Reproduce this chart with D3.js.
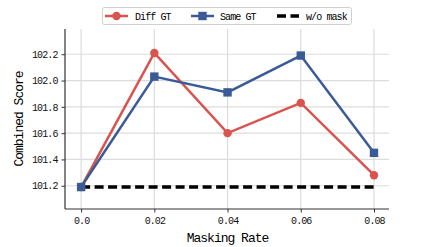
<!DOCTYPE html>
<html><head><meta charset="utf-8">
<script src="https://cdn.jsdelivr.net/npm/d3@7"></script>
<style>
html,body{margin:0;padding:0;background:#fff;}
text{font-family:"Liberation Mono","DejaVu Sans Mono",monospace;}
</style></head>
<body><svg id="c" width="432" height="247"></svg>
<script>
const rates = [0.0, 0.02, 0.04, 0.06, 0.08];
const xTickLabels = ["0.0", "0.02", "0.04", "0.06", "0.08"];
const diffGT = [101.19, 102.21, 101.60, 101.83, 101.28];
const sameGT = [101.19, 102.03, 101.91, 102.19, 101.45];
const woMask = [101.19, 101.19, 101.19, 101.19, 101.19];
const yTicks = [101.2, 101.4, 101.6, 101.8, 102.0, 102.2];
const seriesNames = ["Diff GT", "Same GT", "w/o mask"];

const svg = d3.select("#c");
const L = 65, R = 389, T = 29, B = 209;
const x = d3.scaleLinear().domain([-0.0044, 0.0841]).range([L, R]);
const y = d3.scaleLinear().domain([101.023, 102.392]).range([B, T]);

// grid
const g = svg.append("g");
g.selectAll(".gx").data(rates).enter().append("line")
  .attr("x1", d => x(d)).attr("x2", d => x(d)).attr("y1", T).attr("y2", B)
  .attr("stroke", "#dcdcdc").attr("stroke-width", 1.2);
g.selectAll(".gy").data(yTicks).enter().append("line")
  .attr("y1", d => y(d)).attr("y2", d => y(d)).attr("x1", L).attr("x2", R)
  .attr("stroke", "#dcdcdc").attr("stroke-width", 1.2);

// axes
const xAxis = d3.axisBottom(x).tickValues(rates).tickFormat((d, i) => xTickLabels[i]).tickSize(3.5).tickPadding(4);
const yAxis = d3.axisLeft(y).tickValues(yTicks).tickFormat(d => d.toFixed(1)).tickSize(3.5).tickPadding(4);
const gx = svg.append("g").attr("transform", `translate(0,${B})`).call(xAxis);
const gy = svg.append("g").attr("transform", `translate(${L},0)`).call(yAxis);
[gx, gy].forEach(a => {
  a.select(".domain").remove();
  a.selectAll(".tick line").attr("stroke", "#333").attr("stroke-width", 1);
  a.selectAll(".tick text").attr("fill", "#111").style("font-size", "10px").style("letter-spacing", "-0.9px");
});
svg.append("line").attr("x1", L).attr("x2", L).attr("y1", T).attr("y2", B).attr("stroke", "#333").attr("stroke-width", 1.2);
svg.append("line").attr("x1", L).attr("x2", R).attr("y1", B).attr("y2", B).attr("stroke", "#333").attr("stroke-width", 1.2);

// labels
svg.append("text").attr("x", (L + R) / 2 + 0.5).attr("y", 242).attr("text-anchor", "middle")
  .style("font-size", "13px").style("letter-spacing", "-1px").attr("fill", "#000").text("Masking Rate");
svg.append("text").attr("transform", `translate(23,119) rotate(-90)`).attr("text-anchor", "middle")
  .style("font-size", "13px").style("letter-spacing", "-1px").attr("fill", "#000").text("Combined Score");

const red = "#d9534f", blue = "#3b5b96";
const line = d3.line().x((d, i) => x(rates[i])).y(d => y(d));

// w/o mask dashed
svg.append("path").datum(woMask).attr("d", line).attr("fill", "none")
  .attr("stroke", "#000").attr("stroke-width", 3.5).attr("stroke-dasharray", "9,4.5");

// Diff GT
svg.append("path").datum(diffGT).attr("d", line).attr("fill", "none").attr("stroke", red).attr("stroke-width", 2.5);
svg.selectAll(".cd").data(diffGT).enter().append("circle")
  .attr("cx", (d, i) => x(rates[i])).attr("cy", d => y(d)).attr("r", 4.2).attr("fill", red);

// Same GT
svg.append("path").datum(sameGT).attr("d", line).attr("fill", "none").attr("stroke", blue).attr("stroke-width", 2.5);
svg.selectAll(".sq").data(sameGT).enter().append("rect")
  .attr("x", (d, i) => x(rates[i]) - 4.2).attr("y", d => y(d) - 4.2).attr("width", 8.4).attr("height", 8.4).attr("fill", blue);

// legend
const lg = svg.append("g");
lg.append("rect").attr("x", 102.5).attr("y", 7.5).attr("width", 249).attr("height", 17).attr("rx", 2)
  .attr("fill", "#fff").attr("stroke", "#d0d0d0").attr("stroke-width", 1);
const items = [
  {name: seriesNames[0], x0: 105, tx: 135, color: red, type: "circle"},
  {name: seriesNames[1], x0: 191, tx: 220, color: blue, type: "square"},
  {name: seriesNames[2], x0: 277, tx: 306, color: "#000", type: "dash"}
];
const ly = 16;
items.forEach(it => {
  if (it.type === "dash") {
    lg.append("line").attr("x1", it.x0).attr("x2", it.x0 + 22).attr("y1", ly).attr("y2", ly)
      .attr("stroke", "#000").attr("stroke-width", 3.5).attr("stroke-dasharray", "9,4.5");
  } else {
    lg.append("line").attr("x1", it.x0).attr("x2", it.x0 + 23).attr("y1", ly).attr("y2", ly)
      .attr("stroke", it.color).attr("stroke-width", 2.5);
    if (it.type === "circle") lg.append("circle").attr("cx", it.x0 + 11.5).attr("cy", ly).attr("r", 4.2).attr("fill", it.color);
    else lg.append("rect").attr("x", it.x0 + 11.5 - 4.2).attr("y", ly - 4.2).attr("width", 8.4).attr("height", 8.4).attr("fill", it.color);
  }
  lg.append("text").attr("x", it.tx).attr("y", ly + 3.5).style("font-size", "10px").style("letter-spacing", "-0.9px")
    .attr("fill", "#000").text(it.name);
});
</script></body></html>
